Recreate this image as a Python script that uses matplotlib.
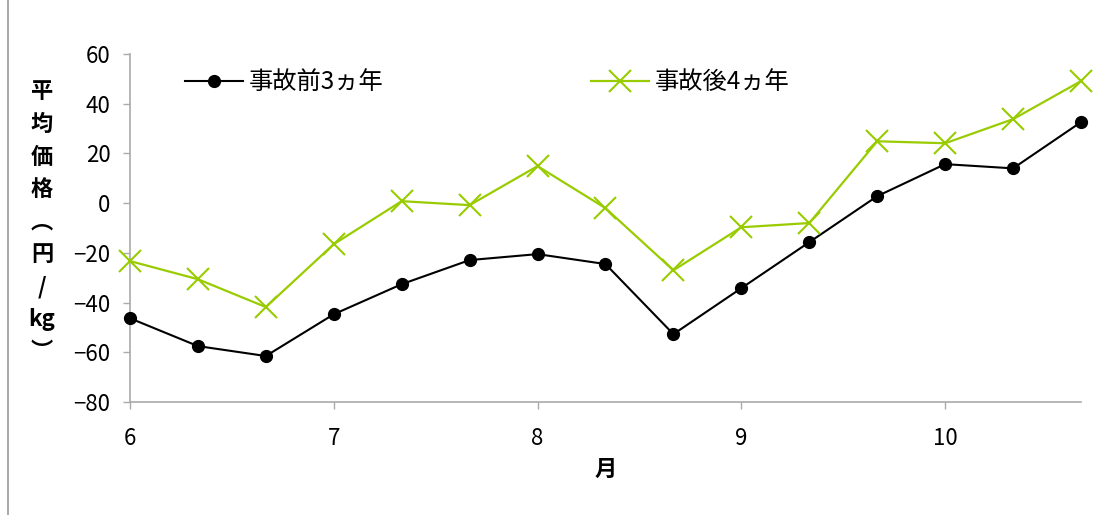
import matplotlib.pyplot as plt
from matplotlib.lines import Line2D

plt.rcParams['font.family'] = ['Noto Sans CJK JP', 'DejaVu Sans']

# 月 (6月〜10月, 1/3ヵ月刻み)
months = [6 + i / 3 for i in range(15)]
before_3y = [-46.3, -57.5, -61.5, -44.7, -32.6, -22.9, -20.5, -24.5,
             -52.7, -34.2, -15.7, 2.8, 15.7, 14.0, 32.6]
after_4y = [-23.3, -30.6, -41.8, -16.5, 0.8, -0.8, 14.9, -2.0,
            -27.0, -9.7, -8.0, 24.9, 24.1, 33.8, 49.1]
x_ticks = [6, 7, 8, 9, 10]
y_ticks = [-80, -60, -40, -20, 0, 20, 40, 60]
ylabel_chars = ['平', '均', '価', '格', '︵', '円', '/', 'kg', '︶']

fig = plt.figure(figsize=(11.07, 5.15), dpi=100)
ax = fig.add_axes([0.1174, 0.2194, 0.8591, 0.6757])

ax.plot(months, before_3y, color='black', lw=1.5, marker='o', ms=8.5,
        label='事故前3ヵ年', clip_on=False, zorder=3)
ax.plot(months, after_4y, color='#99cc00', lw=1.6, marker='x', ms=16,
        mew=1.5, label='事故後4ヵ年', clip_on=False, zorder=3)

ax.set_xlim(6, 6 + 14 / 3)
ax.set_ylim(-80, 60)
ax.set_xticks(x_ticks)
ax.set_yticks(y_ticks)
ax.set_yticklabels(['\u221280', '\u221260', '\u221240', '\u221220', '0', '20', '40', '60'])

for s in ['top', 'right']:
    ax.spines[s].set_visible(False)
for s in ['left', 'bottom']:
    ax.spines[s].set_color('#aaaaaa')
    ax.spines[s].set_linewidth(1.2)
ax.tick_params(axis='both', colors='#aaaaaa', labelcolor='black',
               labelsize=16, length=5, width=1)
ax.tick_params(axis='x', pad=13)
ax.tick_params(axis='y', pad=9)

ax.set_xlabel('月', fontsize=16, fontweight='bold', labelpad=6)

# 縦書きの軸ラベル
for i, ch in enumerate(ylabel_chars):
    fig.text(0.038, 1 - (92 + i * 32.5) / 515, ch, fontsize=16,
             fontweight='bold', ha='center', va='center')

ax.legend(loc='center left', bbox_to_anchor=(0.058, 0.9195), ncol=2,
          frameon=False, fontsize=17.5, handlelength=2.39, handletextpad=0.25,
          columnspacing=8.5, borderpad=0, borderaxespad=0)

# 外枠の左線
fig.add_artist(Line2D([0.0075, 0.0075], [0, 1], transform=fig.transFigure,
                      color='#999999', lw=1.2))

fig.savefig('out.png', dpi=100)
